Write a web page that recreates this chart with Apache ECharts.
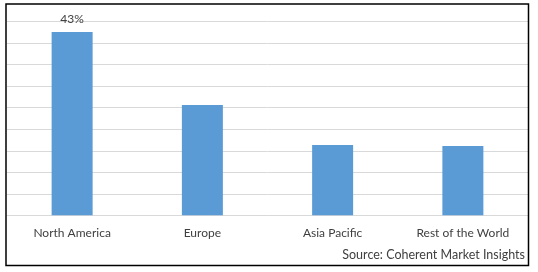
<!DOCTYPE html>
<html>
<head>
<meta charset="utf-8">
<script src="https://cdn.jsdelivr.net/npm/echarts@6/dist/echarts.min.js"></script>
<style>html,body{margin:0;padding:0;background:#fff}#c{width:538px;height:272px}</style>
</head>
<body>
<div id="c"></div>
<script>
const categories = ['North America', 'Europe', 'Asia Pacific', 'Rest of the World'];
const shares = [42.6, 25.65, 16.35, 16.1];
const labelledIndex = 0;
const sourceText = 'Source: Coherent Market Insights';

const chart = echarts.init(document.getElementById('c'), null, {renderer: 'canvas'});
const font = 'Lato, "Open Sans", sans-serif';
chart.setOption({
  animation: false,
  grid: {left: 7, right: 10, top: 21.7, bottom: 56.7, containLabel: false},
  xAxis: {
    type: 'category',
    data: categories,
    axisLine: {show: true, lineStyle: {color: '#d9d9d9', width: 1}},
    axisTick: {show: false},
    axisLabel: {color: '#404040', fontSize: 12, fontFamily: font, margin: 12}
  },
  yAxis: {
    type: 'value', min: 0, max: 45, interval: 5,
    axisLabel: {show: false},
    axisLine: {show: false}, axisTick: {show: false},
    splitLine: {lineStyle: {color: '#d9d9d9', width: 1}}
  },
  series: [{
    type: 'bar',
    data: shares.map((v, i) => ({
      value: v,
      label: {show: i === labelledIndex}
    })),
    barWidth: 41,
    itemStyle: {color: '#5b9bd5'},
    label: {position: 'top', distance: 7, formatter: p => Math.round(p.value) + '%', color: '#404040', fontSize: 12, fontFamily: font}
  }],
  graphic: [
    {type: 'rect', shape: {x: 6, y: 4, width: 522.5, height: 261.5}, style: {fill: 'none', stroke: '#000', lineWidth: 1.5}, z: 100},
    {type: 'text', right: 13, top: 248, style: {text: sourceText, fill: '#404040', fontSize: 12.5, fontFamily: font}}
  ]
});
</script>
</body>
</html>
